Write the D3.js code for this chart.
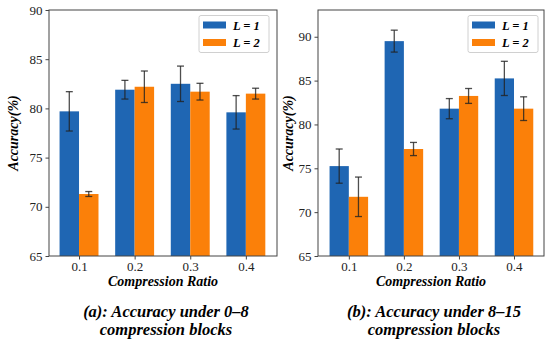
<!DOCTYPE html>
<html>
<head>
<meta charset="utf-8">
<script src="https://cdn.jsdelivr.net/npm/d3@7"></script>
<style>
  body { margin: 0; background: #fff; }
  svg { display: block; font-family: "Liberation Serif", "Times New Roman", serif; }
</style>
</head>
<body>
<svg id="chart" width="550" height="343"></svg>
<script>
// ---- data ----
const ratios = ["0.1", "0.2", "0.3", "0.4"];
const seriesNames = ["L = 1", "L = 2"];

// (a) 0-8 compression blocks
const accA_L1 = [79.7, 81.9, 82.5, 79.6];
const errA_L1 = [2.0, 0.95, 1.8, 1.7];
const accA_L2 = [71.3, 82.2, 81.7, 81.5];
const errA_L2 = [0.25, 1.6, 0.85, 0.55];

// (b) 8-15 compression blocks
const accB_L1 = [75.25, 89.5, 81.8, 85.25];
const errB_L1 = [1.95, 1.25, 1.15, 1.95];
const accB_L2 = [71.75, 77.2, 83.25, 81.8];
const errB_L2 = [2.25, 0.75, 0.85, 1.35];

const ticksA = [65, 70, 75, 80, 85, 90];
const ticksB = [65, 70, 75, 80, 85, 90];

const colors = ["#1f66b3", "#fb8009"];

const svg = d3.select("#chart");

function drawPanel(cfg) {
  const g = svg.append("g");
  const x = d3.scaleLinear().domain(cfg.xDomain).range([cfg.x0, cfg.x1]);
  const y = d3.scaleLinear().domain(cfg.yDomain).range([cfg.y1, cfg.y0]);
  const bw = 0.35;

  const rows = [];
  cfg.series.forEach((s, si) => {
    ratios.forEach((r, i) => {
      rows.push({ si: si, i: i, v: s.acc[i], e: s.err[i] });
    });
  });

  // bars
  g.selectAll("rect.bar").data(rows).join("rect")
    .attr("class", "bar")
    .attr("x", d => x(d.i + (d.si - 1) * bw))
    .attr("width", d => x(bw) - x(0))
    .attr("y", d => y(d.v))
    .attr("height", d => y(cfg.yDomain[0]) - y(d.v))
    .attr("fill", d => colors[d.si]);

  // error bars
  const eb = g.selectAll("g.err").data(rows).join("g").attr("class", "err")
    .attr("stroke", "#222").attr("stroke-opacity", 0.8).attr("stroke-width", 1.3);
  const cx = d => x(d.i + (d.si - 0.5) * bw);
  eb.append("line").attr("x1", cx).attr("x2", cx)
    .attr("y1", d => y(d.v - d.e)).attr("y2", d => y(d.v + d.e));
  eb.append("line").attr("x1", d => cx(d) - 3.5).attr("x2", d => cx(d) + 3.5)
    .attr("y1", d => y(d.v + d.e)).attr("y2", d => y(d.v + d.e));
  eb.append("line").attr("x1", d => cx(d) - 3.5).attr("x2", d => cx(d) + 3.5)
    .attr("y1", d => y(d.v - d.e)).attr("y2", d => y(d.v - d.e));

  // axes
  const yAxis = g.append("g").attr("transform", `translate(${cfg.x0},0)`)
    .call(d3.axisLeft(y).tickValues(cfg.ticks).tickSize(3.5).tickPadding(3).tickFormat(d3.format("d")));
  const xAxis = g.append("g").attr("transform", `translate(0,${cfg.y1})`)
    .call(d3.axisBottom(x).tickValues(d3.range(ratios.length)).tickSize(3.5).tickPadding(2).tickFormat(i => ratios[i]));
  [yAxis, xAxis].forEach(a => {
    a.attr("font-family", "Liberation Serif");
    a.select(".domain").remove();
    a.selectAll("line").attr("stroke", "#444");
    a.selectAll("text").attr("font-size", 13).attr("fill", "#222");
  });

  // frame
  g.append("rect").attr("x", cfg.x0).attr("y", cfg.y0)
    .attr("width", cfg.x1 - cfg.x0).attr("height", cfg.y1 - cfg.y0)
    .attr("fill", "none").attr("stroke", "#444").attr("stroke-width", 1);

  // axis titles
  g.append("text")
    .attr("transform", `translate(${cfg.yLabelX},${(cfg.y0 + cfg.y1) / 2}) rotate(-90)`)
    .attr("text-anchor", "middle").attr("dominant-baseline", "central")
    .attr("font-size", 14).attr("font-weight", "bold").attr("font-style", "italic")
    .text("Accuracy(%)");
  g.append("text")
    .attr("x", (cfg.x0 + cfg.x1) / 2).attr("y", 286)
    .attr("text-anchor", "middle")
    .attr("font-size", 14).attr("font-weight", "bold").attr("font-style", "italic")
    .text("Compression Ratio");

  // caption
  cfg.caption.forEach((line, k) => {
    g.append("text")
      .attr("x", cfg.capX).attr("y", 317 + k * 18)
      .attr("text-anchor", "middle")
      .attr("font-size", 16.5).attr("font-weight", "bold").attr("font-style", "italic")
      .text(line);
  });

  // legend
  const lg = g.append("g").attr("transform", `translate(${cfg.legX},${cfg.legY})`);
  lg.append("rect").attr("width", 70).attr("height", 37).attr("rx", 2)
    .attr("fill", "#fff").attr("stroke", "#d0d0d0");
  seriesNames.forEach((n, k) => {
    lg.append("rect").attr("x", 4).attr("y", 6 + k * 17.5).attr("width", 23).attr("height", 7)
      .attr("fill", colors[k]);
    lg.append("text").attr("x", 34).attr("y", 10 + k * 17.5)
      .attr("dominant-baseline", "central")
      .attr("font-size", 12.5).attr("font-weight", "bold").attr("font-style", "italic")
      .text(n);
  });
}

drawPanel({
  x0: 49, x1: 277, y0: 10, y1: 256,
  xDomain: [-0.54, 3.56], yDomain: [65, 90], ticks: ticksA,
  series: [{ acc: accA_L1, err: errA_L1 }, { acc: accA_L2, err: errA_L2 }],
  yLabelX: 13, capX: 166, legX: 199, legY: 15.5,
  caption: ["(a): Accuracy under 0\u20138", "compression blocks"]
});

drawPanel({
  x0: 318, x1: 544, y0: 10, y1: 256,
  xDomain: [-0.56, 3.545], yDomain: [65, 93.05], ticks: ticksB,
  series: [{ acc: accB_L1, err: errB_L1 }, { acc: accB_L2, err: errB_L2 }],
  yLabelX: 288, capX: 434, legX: 468, legY: 15.5,
  caption: ["(b): Accuracy under 8\u201315", "compression blocks"]
});
</script>
</body>
</html>
